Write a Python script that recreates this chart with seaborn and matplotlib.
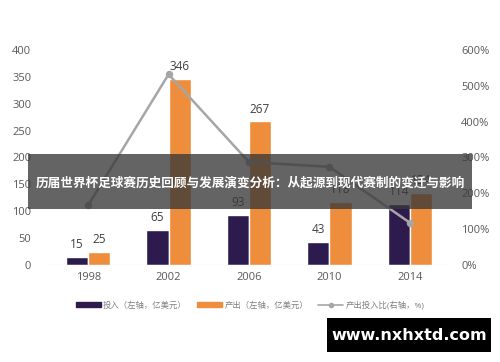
import matplotlib
matplotlib.use("Agg")
import matplotlib.pyplot as plt
import seaborn as sns
import pandas as pd
from matplotlib.patches import Rectangle, Patch
from matplotlib.lines import Line2D

years = ["1998", "2002", "2006", "2010", "2014"]
invest = [15, 65, 93, 43, 114]
output = [25, 346, 267, 118, 134]
ratio = [167, 532, 287, 274, 118]
left_ticks = [0, 50, 100, 150, 200, 250, 300, 350, 400]
right_ticks = [0, 100, 200, 300, 400, 500, 600]
series_names = ["投入（左轴，亿美元）", "产出（左轴，亿美元）", "产出投入比(右轴，%)"]
title_text = "历届世界杯足球赛历史回顾与发展演变分析：从起源到现代赛制的变迁与影响"
watermark = "www.nxhxtd.com"

sns.set_theme(style="white")
plt.rcParams['font.family'] = ['Open Sans', 'Noto Sans CJK SC', 'DejaVu Sans']

purple = "#2d1b4e"
orange = "#ee8d3b"
gray = "#a6a6a6"
tick_col = "#595959"

df = pd.DataFrame({
    "year": years * 2,
    "value": invest + output,
    "series": [series_names[0]] * len(years) + [series_names[1]] * len(years),
})

fig = plt.figure(figsize=(5, 3.62), dpi=100)
ax = fig.add_axes([0.096, 0.268, 0.804, 0.594])
sns.barplot(data=df, x="year", y="value", hue="series", palette=[purple, orange],
            width=0.55, ax=ax, legend=False, saturation=1)
ax.set_ylim(0, 400)
ax.set_yticks(left_ticks)
ax.set_xlabel("")
ax.set_ylabel("")
for c in ax.containers:
    ax.bar_label(c, fmt="%d", padding=4, fontsize=8.5, color="#404040")

ax2 = ax.twinx()
sns.pointplot(x=years, y=ratio, ax=ax2, color=gray, markers="o",
              linewidth=1.8, markersize=4)
ax2.set_ylim(0, 600)
ax2.set_yticks(right_ticks)
ax2.set_yticklabels([f"{t}%" for t in right_ticks])
ax.set_xlim(-0.5, 4.5)

for a in (ax, ax2):
    for s in a.spines.values():
        s.set_visible(False)
    a.tick_params(axis="both", length=0, labelsize=8, colors=tick_col)
    a.grid(False)
ax.tick_params(axis="y", pad=12)
ax2.tick_params(axis="y", pad=8)
ax.tick_params(axis="x", pad=5)
ax.axhline(0, color="#d9d9d9", lw=0.8)

handles = [Patch(color=purple), Patch(color=orange),
           Line2D([0], [0], color=gray, marker="o", markersize=3, lw=1.2)]
fig.legend(handles, series_names, loc="center", bbox_to_anchor=(0.5, 0.157), ncol=3,
           frameon=False, fontsize=6, handlelength=3, handleheight=0.5,
           columnspacing=1.2, handletextpad=0.3, labelcolor="#7f7f7f")

# overlay banner
fig.patches.append(Rectangle((28 / 500, 1 - 209 / 362), 444 / 500, 55 / 362,
                             transform=fig.transFigure, facecolor=(0.22, 0.22, 0.22, 0.78),
                             edgecolor="none", zorder=10))
fig.text(0.5, 1 - 183 / 362, title_text, ha="center", va="center", color="white",
         fontsize=9.1, fontweight="bold", family=['Noto Sans CJK SC', 'DejaVu Sans'], zorder=11)

# watermark
fig.patches.append(Rectangle((327 / 500, 1 - 352 / 362), 164 / 500, 34 / 362,
                             transform=fig.transFigure, facecolor="black",
                             edgecolor="none", zorder=10))
fig.text(409 / 500, 1 - 335 / 362, watermark, ha="center", va="center", color="white",
         fontsize=11.5, fontweight="bold", family=['DejaVu Sans'], zorder=11)

fig.savefig("out.png", dpi=100)
